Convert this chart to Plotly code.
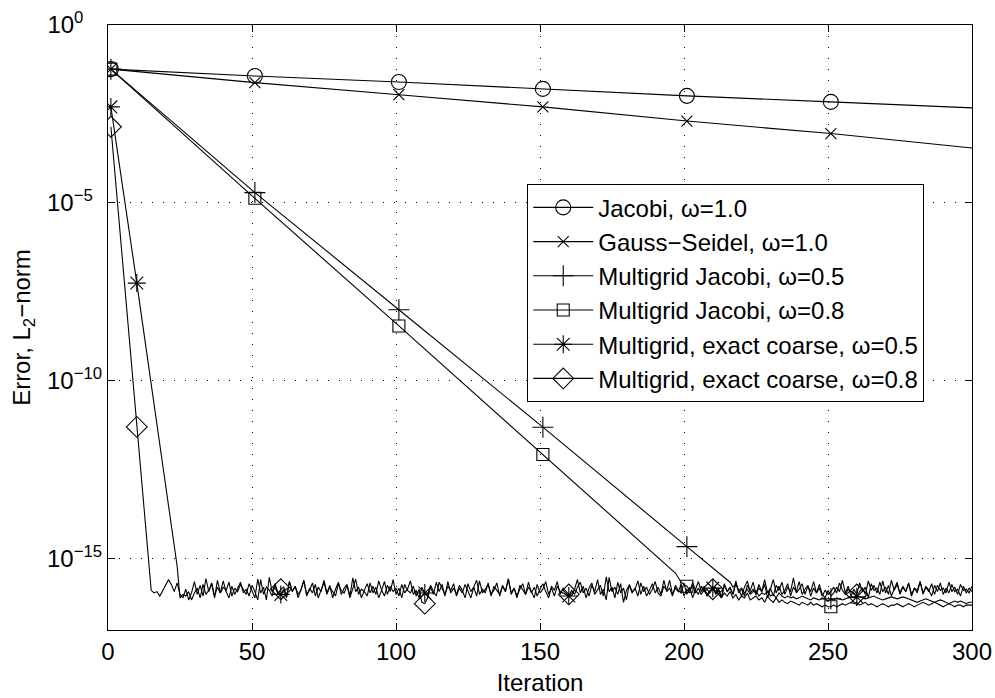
import plotly.graph_objects as go

# ---------------- data ----------------
# anchor points (iteration, error) of the straight-line (log) decay parts
jacobi_it = [1, 51, 101, 151, 201, 251, 300]
jacobi_val = [5.75e-2, 3.7e-2, 2.5e-2, 1.6e-2, 1.02e-2, 6.9e-3, 4.7e-3]

gs_it = [1, 51, 101, 151, 201, 251, 300]
gs_val = [5.75e-2, 2.4e-2, 1.1e-2, 5.0e-3, 2.0e-3, 8.9e-4, 3.5e-4]

mgj05_it = [1, 51, 101, 151, 201, 215]
mgj05_val = [5.75e-2, 1.95e-5, 1.0e-8, 5.0e-12, 2.2e-15, 2.6e-16]
mgj05_noise_start = 216
mgj05_noise = [2.2, 1.6, 1.9, 1.3, 1.5, 1.1, 1.4, 1.0, 1.2, 1.3, 0.9, 1.1, 1.0, 1.2, 0.9, 1.0, 0.8, 1.1, 0.9, 0.8,
               0.9, 0.8, 0.85, 0.75, 0.8, 0.9, 0.8, 0.75, 0.7, 0.8, 0.75, 0.7, 0.8, 0.7, 0.65, 0.75, 0.7, 0.8, 0.75, 0.7,
               0.75, 0.8, 0.85, 0.8, 0.9, 0.85, 0.8, 0.75, 0.8, 0.85, 0.9, 0.8, 0.75, 0.7, 0.75, 0.8, 0.85, 0.8, 0.75, 0.8,
               0.85, 0.8, 0.75, 0.7, 0.65, 0.6, 0.65, 0.7, 0.75, 0.7, 0.65, 0.6, 0.65, 0.7, 0.65, 0.6, 0.55, 0.6, 0.65, 0.6,
               0.65, 0.6, 0.55, 0.6, 0.6]

mgj08_it = [1, 51, 101, 151, 197]
mgj08_val = [5.75e-2, 1.35e-5, 3.5e-9, 8.5e-13, 4.0e-16]
mgj08_noise_start = 198
mgj08_noise = [3.0, 2.2, 1.9, 1.7, 1.3, 1.8, 1.1, 1.5, 1.0, 1.4, 0.9, 1.2, 1.6, 1.0, 1.3, 0.8, 1.1, 0.9, 1.2, 0.8,
               1.0, 0.7, 0.9, 0.8, 1.1, 0.7, 0.8, 0.9, 0.7, 0.8, 0.6, 0.9, 0.7, 0.6, 0.8, 0.6, 0.7, 0.6, 0.55, 0.65,
               0.6, 0.55, 0.5, 0.6, 0.55, 0.5, 0.6, 0.5, 0.55, 0.5, 0.45, 0.5, 0.45, 0.45, 0.5, 0.45, 0.5, 0.55, 0.5, 0.55,
               0.6, 0.55, 0.6, 0.5, 0.55, 0.6, 0.5, 0.55, 0.5, 0.45, 0.5, 0.55, 0.5, 0.45, 0.5, 0.5, 0.55, 0.5, 0.45, 0.5,
               0.55, 0.5, 0.45, 0.5, 0.55, 0.6, 0.55, 0.5, 0.55, 0.6, 0.55, 0.5, 0.45, 0.5, 0.55, 0.5, 0.45, 0.5, 0.5, 0.45,
               0.5, 0.5, 0.5]

ec05_it = [1, 10, 24]
ec05_val = [5.0e-3, 5.6e-8, 6.3e-16]
ec05_noise_start = 25
ec05_noise = [0.8, 1.0, 0.9, 1.2, 0.7, 1.1, 1.5, 0.8, 1.9, 1.0, 1.3, 2.1, 0.9, 1.6, 1.1, 2.4, 1.2, 0.8, 1.7, 1.0,
              1.5, 2.2, 1.1, 1.4, 0.9, 1.8, 1.2, 0.7, 2.6, 1.0, 1.6, 1.3, 0.9, 2.0, 1.1, 1.0, 1.4, 0.8, 2.3, 1.2,
              1.7, 1.0, 1.3, 2.5, 0.9, 1.5, 1.1, 1.9, 0.8, 1.4, 2.2, 1.0, 1.6, 1.2, 0.9, 2.0, 1.3, 1.1, 1.8, 0.8,
              1.5, 2.7, 1.0, 1.4, 1.2, 0.9, 2.1, 1.1, 1.6, 0.8, 1.3, 2.3, 1.0, 1.7, 1.2, 1.5, 0.9, 1.9, 1.1, 1.4,
              2.4, 1.0, 1.3, 0.8, 1.6, 1.1, 1.0, 1.8, 1.2, 0.9, 2.2, 1.4, 1.0, 1.7, 1.3, 2.0, 0.9, 1.5, 1.1, 1.9,
              1.2, 0.8, 1.6, 2.5, 1.0, 1.4, 1.1, 2.1, 0.9, 1.7, 1.3, 1.0, 1.8, 1.2, 2.8, 1.1, 1.5, 0.9, 1.4, 2.0,
              1.0, 1.6, 1.2, 0.8, 1.9, 1.1, 1.4, 2.3, 1.0, 1.5, 0.9, 1.7, 1.2, 1.1, 1.0, 0.9, 1.3, 1.0, 1.6, 2.2,
              1.1, 1.5, 0.9, 1.8, 1.2, 2.6, 1.0, 1.4, 0.7, 3.0, 1.2, 1.6, 1.0, 2.0, 0.6, 1.3, 1.8, 1.1, 1.5, 0.9,
              2.1, 1.2, 1.6, 1.0, 1.4, 2.3, 1.1, 0.9, 1.7, 1.3, 2.5, 1.0, 1.5, 1.2, 1.9, 0.9, 1.4, 1.1, 2.2, 1.3,
              1.0, 1.7, 1.2, 1.4, 1.1, 1.5, 1.6, 1.0, 0.8, 1.8, 1.2, 1.5, 1.0, 2.0, 1.3, 0.9, 1.6, 2.4, 1.1, 1.4,
              1.0, 1.9, 1.2, 2.6, 1.1, 1.5, 0.9, 1.8, 1.3, 2.2, 1.0, 1.6, 1.2, 2.9, 1.1, 1.4, 2.0, 1.0, 1.7, 1.2,
              2.3, 1.1, 1.5, 0.9, 1.3, 1.0, 1.2, 1.6, 1.1, 2.1, 1.3, 1.0, 1.4, 1.2, 1.1, 0.85, 1.2, 1.5, 1.0, 2.4,
              1.3, 1.8, 1.1, 2.2, 1.2, 1.6, 1.0, 2.5, 1.3, 1.9, 1.1, 1.7, 1.2, 2.1, 1.0, 1.5, 1.3, 2.3, 1.1, 1.6,
              1.2, 2.0, 1.0, 1.8, 1.3, 1.5, 1.1, 2.2, 1.2, 1.6, 1.0, 1.9, 1.3, 1.4, 1.1, 1.7]

ec08_it = [1, 10, 14]
ec08_val = [1.38e-3, 5.1e-12, 9.0e-16]
ec08_noise_start = 15
ec08_noise = [1.3, 1.1, 1.2, 0.9, 1.3, 1.7, 2.6, 1.9, 1.2, 2.1, 1.0, 0.8, 1.4, 0.7, 1.1, 2.3, 1.0, 1.8, 0.9, 2.8,
              1.2, 2.0, 0.8, 2.5, 1.1, 1.6, 1.3, 2.2, 0.9, 1.5, 1.2, 1.9, 1.4, 1.0, 2.0, 1.3, 0.8, 2.7, 1.1, 1.6,
              0.7, 3.0, 1.2, 1.8, 1.0, 1.4, 1.6, 0.9, 2.3, 1.2, 1.7, 0.8, 1.5, 2.4, 1.0, 1.3, 2.1, 0.9, 1.6, 1.2,
              2.5, 1.1, 1.8, 0.8, 1.4, 2.2, 1.0, 1.5, 1.9, 0.9, 2.9, 1.2, 1.6, 0.8, 1.3, 2.0, 1.1, 1.7, 1.0, 2.4,
              1.3, 0.9, 1.8, 1.2, 2.6, 1.0, 1.5, 0.8, 1.9, 1.3, 1.1, 1.7, 0.9, 1.4, 0.6, 0.55, 0.8, 1.6, 1.0, 2.2,
              1.2, 1.9, 0.9, 2.3, 1.1, 1.5, 1.0, 1.8, 1.3, 0.8, 2.0, 1.2, 1.6, 0.9, 2.4, 1.1, 1.4, 1.9, 1.0, 1.3,
              2.1, 0.9, 1.7, 1.2, 2.7, 1.0, 1.5, 0.8, 1.8, 1.3, 1.0, 2.2, 1.1, 1.6, 0.9, 1.4, 2.0, 1.2, 0.8, 1.7,
              1.3, 2.3, 1.0, 1.5, 1.2, 1.0, 0.9, 1.4, 2.6, 1.1, 1.7, 0.8, 1.5, 2.1, 1.0, 1.3, 1.8, 0.9, 3.1, 1.2,
              1.6, 0.8, 2.2, 1.1, 1.5, 0.7, 1.9, 1.2, 1.4, 2.4, 1.0, 1.7, 0.9, 1.3, 2.0, 1.1, 1.6, 1.0, 2.5, 1.2,
              1.5, 0.9, 1.8, 1.3, 1.1, 2.1, 1.0, 1.6, 0.8, 1.4, 2.3, 1.2, 1.7, 0.9, 1.3, 1.4, 1.1, 1.5, 0.8, 2.0,
              1.2, 1.6, 1.0, 2.4, 1.1, 1.4, 0.9, 1.8, 1.3, 2.2, 1.0, 1.5, 1.2, 1.9, 0.8, 1.4, 2.6, 1.1, 1.7, 1.0,
              1.3, 2.0, 0.9, 1.6, 1.2, 2.3, 1.0, 1.4, 1.8, 0.9, 1.5, 1.1, 1.9, 1.0, 0.8, 1.3, 0.9, 1.1, 1.6, 1.2,
              2.5, 1.1, 1.7, 0.9, 1.4, 1.0, 2.1, 1.2, 1.6, 0.8, 2.0, 1.3, 1.5, 1.0, 2.4, 1.1, 1.8, 0.9, 1.4, 2.2,
              1.0, 1.6, 1.2, 2.0, 0.9, 1.5, 1.1, 2.3, 1.0, 1.7, 1.3, 0.9, 1.8, 1.2, 2.1, 1.0, 1.5, 1.1, 1.9, 1.2,
              1.4, 0.9, 1.7, 1.1, 1.5, 1.2]
noise_unit = 1e-16

marks_50 = [1, 51, 101, 151, 201, 251]
marks_ec = [1, 10, 60, 110, 160, 210, 260]

series_names = ["Jacobi, ω=1.0", "Gauss−Seidel, ω=1.0", "Multigrid Jacobi, ω=0.5",
                "Multigrid Jacobi, ω=0.8", "Multigrid, exact coarse, ω=0.5", "Multigrid, exact coarse, ω=0.8"]
symbols = ["circle-open", "x-thin-open", "cross-thin-open", "square-open", "asterisk-open", "diamond-open"]
sizes = [15, 11, 15, 12, 15, 16]

x_ticks = [0, 50, 100, 150, 200, 250, 300]
y_tickvals = [1e0, 1e-5, 1e-10, 1e-15]
y_ticktext = ["10<sup>0\u2007\u2007</sup>", "10<sup>−5\u2007</sup>", "10<sup>−10</sup>", "10<sup>−15</sup>"]


def build(it, val, noise=None, start=None):
    xs = list(it)
    ys = list(val)
    if noise is not None:
        xs += list(range(start, start + len(noise)))
        ys += [v * noise_unit for v in noise]
    return xs, ys


data = [
    (build(jacobi_it, jacobi_val), marks_50),
    (build(gs_it, gs_val), marks_50),
    (build(mgj05_it, mgj05_val, mgj05_noise, mgj05_noise_start), marks_50),
    (build(mgj08_it, mgj08_val, mgj08_noise, mgj08_noise_start), marks_50),
    (build(ec05_it, ec05_val, ec05_noise, ec05_noise_start), marks_ec),
    (build(ec08_it, ec08_val, ec08_noise, ec08_noise_start), marks_ec),
]

FONT = "Liberation Sans, Arial, Helvetica, sans-serif"
fig = go.Figure()

for i, ((xs, ys), marks) in enumerate(data):
    lookup = dict(zip(xs, ys))
    fig.add_trace(go.Scatter(x=xs, y=ys, mode="lines", line=dict(color="black", width=1.1),
                             showlegend=False, hoverinfo="skip"))
    mx = [m for m in marks if m in lookup]
    my = [lookup[m] for m in mx]
    fig.add_trace(go.Scatter(x=mx, y=my, mode="markers", showlegend=False,
                             marker=dict(symbol=symbols[i], size=sizes[i], color="black",
                                         line=dict(color="black", width=1.1))))

for i, name in enumerate(series_names):
    fig.add_trace(go.Scatter(x=[None], y=[None], mode="lines+markers", name=name,
                             legendgroup="g%d" % i,
                             line=dict(color="black", width=1.1),
                             marker=dict(symbol=symbols[i], size=sizes[i], color="black",
                                         line=dict(color="black", width=1.1))))

axis_common = dict(showline=True, linecolor="black", linewidth=1.2, mirror="ticks",
                   ticks="inside", ticklen=7, tickcolor="black", tickwidth=1.2,
                   showgrid=True, gridcolor="black", gridwidth=1, griddash="1px,10px",
                   zeroline=False, automargin=False,
                   tickfont=dict(family=FONT, size=24, color="black"))

fig.update_xaxes(range=[0, 300], tickvals=x_ticks,
                 title=dict(text="Iteration", font=dict(family=FONT, size=24, color="black"), standoff=10),
                 **axis_common)
fig.update_yaxes(type="log", range=[-17, 0], tickvals=y_tickvals, ticktext=y_ticktext,
                 title=dict(text="Error, L<sub>2</sub>−norm", font=dict(family=FONT, size=24, color="black"), standoff=9),
                 **axis_common)

fig.update_layout(
    width=995, height=698,
    margin=dict(l=108, r=23, t=25, b=68),
    paper_bgcolor="white", plot_bgcolor="white",
    font=dict(family=FONT, size=24, color="black"),
    legend=dict(x=0.485, y=0.737, xanchor="left", yanchor="top",
                bgcolor="white", bordercolor="black", borderwidth=1.2,
                font=dict(family=FONT, size=24, color="black"),
                tracegroupgap=0, itemwidth=60),
)

# remove the default page margin so the figure fills the window exactly
fig.write_html("out.html", config={"displayModeBar": False},
               post_script="document.body.style.margin='0';document.body.style.overflow='hidden';")
